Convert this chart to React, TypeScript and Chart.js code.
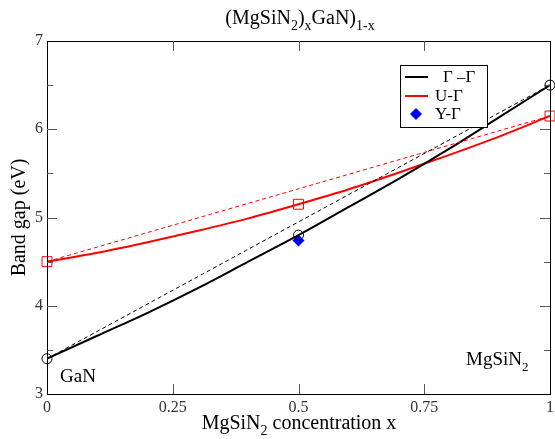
import React, { useEffect, useRef } from "react";
import { Chart, registerables } from "chart.js";

Chart.register(...registerables);

// concentration grid (x) and read-off band gaps
const xGrid = [0, 0.1, 0.2, 0.3, 0.4, 0.5, 0.6, 0.7, 0.8, 0.9, 1];
const gammaGamma = [3.4, 3.66, 3.92, 4.2, 4.5, 4.8, 5.12, 5.44, 5.78, 6.14, 6.5];
const uGamma = [4.5, 4.6, 4.72, 4.85, 4.99, 5.15, 5.32, 5.51, 5.71, 5.92, 6.15];

// computed points (markers)
const calcX = [0, 0.5, 1];
const gammaCalc = [3.4, 4.8, 6.5];
const uCalc = [4.5, 5.15, 6.15];
const yGammaX = [0.5];
const yGammaVal = [4.74];

// linear (Vegard) references
const vegardX = [0, 1];
const gammaVegard = [3.4, 6.5];
const uVegard = [4.5, 6.15];

const xTicks = [0, 0.25, 0.5, 0.75, 1];
const xTickLabels = ["0", "0.25", "0.5", "0.75", "1"];
const yTicks = [3, 4, 5, 6, 7];

const legendLabels = ["Γ –Γ", "U-Γ", "Y-Γ"];

const SERIF = '"Liberation Serif", "DejaVu Serif", serif';

const pts = (xs: number[], ys: number[]) => xs.map((x, i) => ({ x, y: ys[i] }));

function drawSubText(
  ctx: CanvasRenderingContext2D,
  parts: { t: string; sub?: boolean }[],
  cx: number,
  baseline: number,
  size: number,
  align: "center" | "left" = "center",
  subRatio = 0.68
) {
  const subSize = Math.round(size * subRatio);
  let total = 0;
  for (const p of parts) {
    ctx.font = `${p.sub ? subSize : size}px ${SERIF}`;
    total += ctx.measureText(p.t).width;
  }
  let x = align === "center" ? cx - total / 2 : cx;
  ctx.textAlign = "left";
  ctx.textBaseline = "alphabetic";
  for (const p of parts) {
    ctx.font = `${p.sub ? subSize : size}px ${SERIF}`;
    ctx.fillText(p.t, x, p.sub ? baseline + size * 0.3 : baseline);
    x += ctx.measureText(p.t).width;
  }
}

const decorPlugin = {
  id: "decor",
  afterDraw(chart: any) {
    const ctx: CanvasRenderingContext2D = chart.ctx;
    const { left, right, top, bottom } = chart.chartArea;
    const xs = chart.scales.x;
    const ys = chart.scales.y;
    ctx.save();
    // frame
    ctx.strokeStyle = "#000";
    ctx.lineWidth = 1;
    ctx.strokeRect(Math.round(left) + 0.5, Math.round(top) + 0.5, Math.round(right - left), Math.round(bottom - top));
    // x ticks (inward, bottom and top)
    ctx.strokeStyle = "#555";
    ctx.beginPath();
    for (const v of xTicks.slice(1, -1)) {
      const px = Math.round(xs.getPixelForValue(v)) + 0.5;
      ctx.moveTo(px, bottom);
      ctx.lineTo(px, bottom - 10);
      ctx.moveTo(px, top);
      ctx.lineTo(px, top + 10);
    }
    // y ticks major + minor
    for (let v = 3.5; v < 7; v += 0.5) {
      const py = Math.round(ys.getPixelForValue(v)) + 0.5;
      const len = Number.isInteger(v) ? 10 : 6;
      ctx.moveTo(left, py);
      ctx.lineTo(left + len, py);
      ctx.moveTo(right, py);
      ctx.lineTo(right - len, py);
    }
    ctx.stroke();

    ctx.fillStyle = "#000";
    // title
    drawSubText(
      ctx,
      [{ t: "(MgSiN" }, { t: "2", sub: true }, { t: ")" }, { t: "x", sub: true }, { t: "GaN)" }, { t: "1-x", sub: true }],
      300,
      24,
      20,
      "center",
      0.7
    );
    // x axis title
    drawSubText(ctx, [{ t: "MgSiN" }, { t: "2", sub: true }, { t: " concentration x" }], 299, 429, 20);
    // y axis title
    ctx.save();
    ctx.translate(25, (top + bottom) / 2);
    ctx.rotate(-Math.PI / 2);
    ctx.font = `20px ${SERIF}`;
    ctx.textAlign = "center";
    ctx.textBaseline = "alphabetic";
    ctx.fillText("Band gap (eV)", 0, 0);
    ctx.restore();
    // annotations
    ctx.font = `19px ${SERIF}`;
    ctx.textAlign = "left";
    ctx.textBaseline = "alphabetic";
    ctx.fillText("GaN", 60, 382);
    drawSubText(ctx, [{ t: "MgSiN" }, { t: "2", sub: true }], 466, 365, 19, "left");

    // legend
    const lx = 400, ly = 65, lw = 87, lh = 62;
    ctx.fillStyle = "#fff";
    ctx.fillRect(lx, ly, lw, lh);
    ctx.strokeStyle = "#000";
    ctx.lineWidth = 1;
    ctx.strokeRect(lx + 0.5, ly + 0.5, lw, lh);
    const rows = [77, 96, 114];
    ctx.lineWidth = 2;
    ctx.strokeStyle = "#000";
    ctx.beginPath();
    ctx.moveTo(405, rows[0]);
    ctx.lineTo(428, rows[0]);
    ctx.stroke();
    ctx.strokeStyle = "#ff0000";
    ctx.beginPath();
    ctx.moveTo(405, rows[1]);
    ctx.lineTo(428, rows[1]);
    ctx.stroke();
    ctx.fillStyle = "#0000ff";
    ctx.beginPath();
    ctx.moveTo(416, rows[2] - 6);
    ctx.lineTo(422, rows[2]);
    ctx.lineTo(416, rows[2] + 6);
    ctx.lineTo(410, rows[2]);
    ctx.closePath();
    ctx.fill();
    ctx.fillStyle = "#000";
    ctx.font = `17px ${SERIF}`;
    ctx.textBaseline = "middle";
    ctx.fillText(legendLabels[0], 443, rows[0] + 1);
    ctx.fillText(legendLabels[1], 435, rows[1] + 1);
    ctx.fillText(legendLabels[2], 435, rows[2] + 1);
    ctx.restore();
  },
};

export default function App() {
  const ref = useRef<HTMLCanvasElement>(null);
  useEffect(() => {
    document.body.style.margin = "0";
    const chart = new Chart(ref.current!, {
      type: "line",
      data: {
        datasets: [
          {
            data: pts(vegardX, gammaVegard),
            borderColor: "#000",
            borderWidth: 1,
            borderDash: [4, 3],
            pointRadius: 0,
          },
          {
            data: pts(vegardX, uVegard),
            borderColor: "#ff0000",
            borderWidth: 1,
            borderDash: [4, 3],
            pointRadius: 0,
          },
          {
            data: pts(xGrid, gammaGamma),
            borderColor: "#000",
            borderWidth: 2,
            cubicInterpolationMode: "monotone",
            pointRadius: 0,
          },
          {
            data: pts(xGrid, uGamma),
            borderColor: "#ff0000",
            borderWidth: 2,
            cubicInterpolationMode: "monotone",
            pointRadius: 0,
          },
          {
            data: pts(calcX, gammaCalc),
            showLine: false,
            pointStyle: "circle",
            pointRadius: 5,
            pointBorderWidth: 1,
            pointBorderColor: "#000",
            pointBackgroundColor: "rgba(0,0,0,0)",
            clip: false,
          } as any,
          {
            data: pts(calcX, uCalc),
            showLine: false,
            pointStyle: "rect",
            pointRadius: 7,
            pointBorderWidth: 1,
            pointBorderColor: "#ff0000",
            pointBackgroundColor: "rgba(0,0,0,0)",
            clip: false,
          } as any,
          {
            data: pts(yGammaX, yGammaVal),
            showLine: false,
            pointStyle: "rectRot",
            pointRadius: 6,
            pointBorderWidth: 0,
            pointBorderColor: "#0000ff",
            pointBackgroundColor: "#0000ff",
            clip: false,
          } as any,
        ],
      },
      options: {
        animation: false,
        responsive: false,
        layout: { autoPadding: false, padding: { left: 0, right: 5, top: 41, bottom: 0 } },
        plugins: { legend: { display: false }, title: { display: false }, tooltip: { enabled: false } },
        scales: {
          x: {
            type: "linear",
            min: 0,
            max: 1,
            border: { display: false },
            grid: { display: false, drawTicks: false },
            afterBuildTicks: (s: any) => {
              s.ticks = xTicks.map((v) => ({ value: v }));
            },
            afterFit: (s: any) => {
              s.height = 45;
              s.paddingLeft = 0;
              s.paddingRight = 0;
            },
            ticks: {
              autoSkip: false,
              maxRotation: 0,
              padding: 4,
              color: "#333",
              font: { family: SERIF, size: 16 },
              callback: (v: any) => xTickLabels[xTicks.indexOf(Number(v))] ?? "",
            },
          },
          y: {
            type: "linear",
            min: 3,
            max: 7,
            border: { display: false },
            grid: { display: false, drawTicks: false },
            afterBuildTicks: (s: any) => {
              s.ticks = yTicks.map((v) => ({ value: v }));
            },
            afterFit: (s: any) => {
              s.width = 47;
              s.paddingTop = 0;
              s.paddingBottom = 0;
            },
            ticks: {
              autoSkip: false,
              padding: 4,
              color: "#333",
              font: { family: SERIF, size: 16 },
              callback: (v: any) => String(v),
            },
          },
        },
      },
      plugins: [decorPlugin],
    });
    return () => chart.destroy();
  }, []);
  return (
    <div style={{ width: 555, height: 439 }}>
      <canvas ref={ref} width={555} height={439} style={{ display: "block" }} />
    </div>
  );
}
